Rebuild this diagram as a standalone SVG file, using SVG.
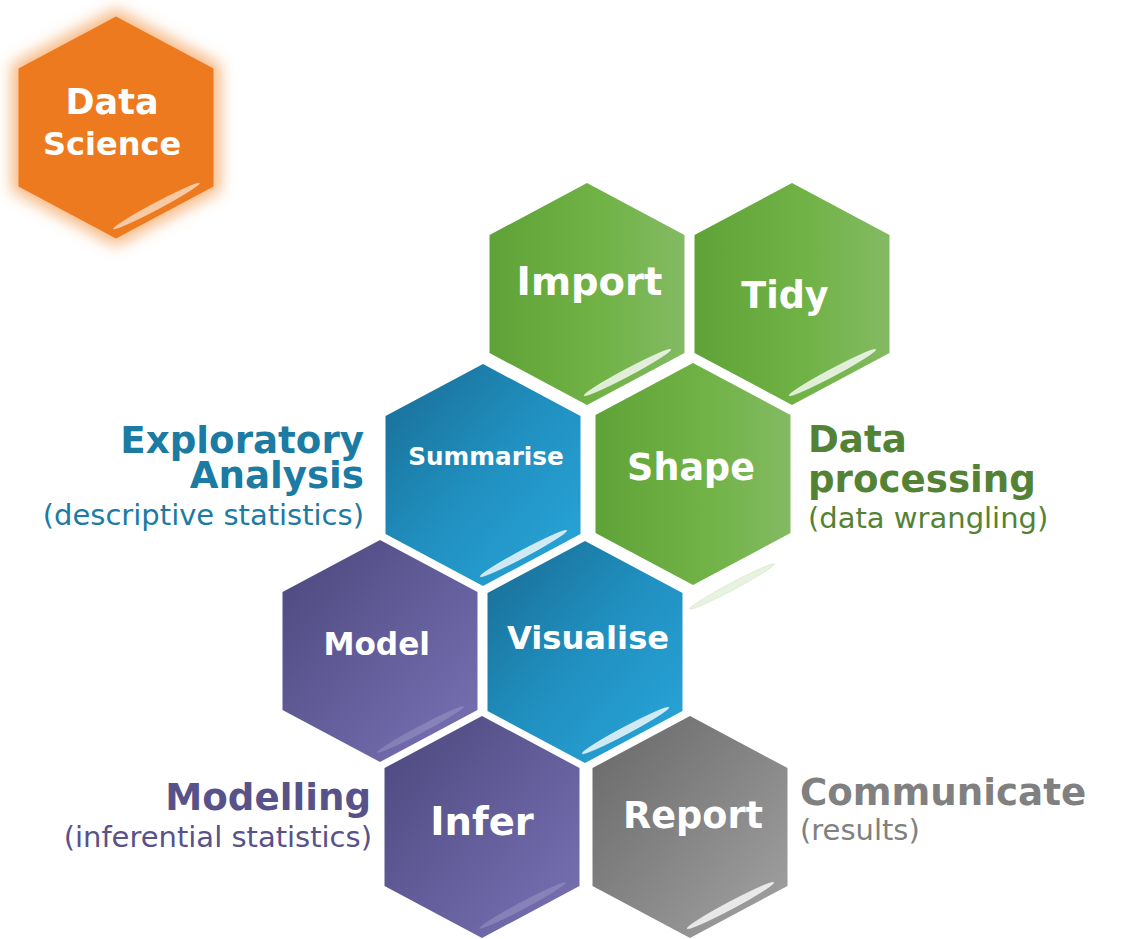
<svg xmlns="http://www.w3.org/2000/svg" xmlns:xlink="http://www.w3.org/1999/xlink" width="1124" height="939" viewBox="0 0 1124 939">
  <style>
    .lbl { font-family: "DejaVu Sans", Verdana, sans-serif; font-weight: bold; fill: #ffffff; text-anchor: middle; }
    .side { font-family: "DejaVu Sans", Verdana, sans-serif; font-weight: bold; font-size: 37.2px; }
    .sub { font-family: "DejaVu Sans", Verdana, sans-serif; font-size: 29px; }
    .blue-t { fill: #1b7ba2; }
    .green-t { fill: #548235; }
    .purple-t { fill: #58528a; }
    .grey-t { fill: #808080; }
    .gloss-light { fill: #ffffff; fill-opacity: 0.78; stroke: #ffffff; stroke-opacity: 0.5; stroke-width: 0.8; }
    .gloss-faint { fill: #ffffff; fill-opacity: 0.16; }
  </style>
  <defs>
    <!-- pointy-top hexagon centred on the origin -->
    <path id="hex" d="M0,-111 L97.5,-59 L97.5,59 L0,111 L-97.5,59 L-97.5,-59 Z"/>
    <!-- thin glossy streak near the lower-right edge -->
    <ellipse id="gloss" cx="0" cy="0" rx="49" ry="3.6" transform="translate(40.5 78.5) rotate(-28)"/>

    <linearGradient id="g-green" x1="0" y1="0" x2="1" y2="0">
      <stop offset="0" stop-color="#5fa237"/>
      <stop offset="0.55" stop-color="#70b245"/>
      <stop offset="1" stop-color="#83ba63"/>
    </linearGradient>
    <linearGradient id="g-blue" x1="0" y1="0" x2="1" y2="1">
      <stop offset="0" stop-color="#196b93"/>
      <stop offset="0.5" stop-color="#2090c0"/>
      <stop offset="1" stop-color="#29a6da"/>
    </linearGradient>
    <linearGradient id="g-purple" x1="0" y1="0" x2="1" y2="1">
      <stop offset="0" stop-color="#4c477c"/>
      <stop offset="0.5" stop-color="#635d9a"/>
      <stop offset="1" stop-color="#7973b6"/>
    </linearGradient>
    <linearGradient id="g-grey" x1="0" y1="0" x2="1" y2="1">
      <stop offset="0" stop-color="#676767"/>
      <stop offset="0.5" stop-color="#858585"/>
      <stop offset="1" stop-color="#a4a4a4"/>
    </linearGradient>
    <filter id="glow" x="-25%" y="-25%" width="150%" height="150%">
      <feGaussianBlur stdDeviation="7"/>
    </filter>
  </defs>

  <rect width="1124" height="939" fill="#ffffff"/>

  <!-- Data Science badge with soft orange halo -->
  <g id="data-science" transform="translate(116 127.5)">
    <use xlink:href="#hex" fill="#f7b985" transform="scale(1.07)" filter="url(#glow)"/>
    <use xlink:href="#hex" fill="#ee7a1f"/>
    <use xlink:href="#gloss" fill="#f8d2b0" fill-opacity="0.9"/>
    <text class="lbl" x="-4" y="-14" font-size="35">Data</text>
    <text class="lbl" x="-4" y="27.5" font-size="32">Science</text>
  </g>

  <!-- Data processing hexagons -->
  <g id="import" transform="translate(587 294)">
    <use xlink:href="#hex" fill="url(#g-green)"/>
    <use xlink:href="#gloss" class="gloss-light"/>
    <text class="lbl" x="2.5" y="1" font-size="38.5">Import</text>
  </g>
  <g id="tidy" transform="translate(792 294)">
    <use xlink:href="#hex" fill="url(#g-green)"/>
    <use xlink:href="#gloss" class="gloss-light"/>
    <text class="lbl" x="-7" y="14" font-size="36.5">Tidy</text>
  </g>
  <g id="shape" transform="translate(693 474)">
    <use xlink:href="#hex" fill="url(#g-green)"/>
    <text class="lbl" x="-2" y="6" font-size="36.5">Shape</text>
  </g>
  <!-- streak left just below the Shape hexagon -->
  <ellipse id="shape-gloss" cx="0" cy="0" rx="48" ry="3.6" transform="translate(732 586.5) rotate(-28)" fill="#d8eacb" fill-opacity="0.6" stroke="#cfe4bf" stroke-opacity="0.6" stroke-width="0.8"/>

  <!-- Exploratory analysis hexagons -->
  <g id="summarise" transform="translate(483 475)">
    <use xlink:href="#hex" fill="url(#g-blue)"/>
    <use xlink:href="#gloss" class="gloss-light" fill-opacity="0.7"/>
    <text class="lbl" x="3" y="-10.5" font-size="24.7">Summarise</text>
  </g>
  <g id="visualise" transform="translate(585 652)">
    <use xlink:href="#hex" fill="url(#g-blue)"/>
    <use xlink:href="#gloss" class="gloss-light" fill-opacity="0.7"/>
    <text class="lbl" x="3" y="-3" font-size="32.2">Visualise</text>
  </g>

  <!-- Modelling hexagons -->
  <g id="model" transform="translate(380 651)">
    <use xlink:href="#hex" fill="url(#g-purple)"/>
    <use xlink:href="#gloss" class="gloss-faint"/>
    <text class="lbl" x="-3.3" y="4" font-size="31.2">Model</text>
  </g>
  <g id="infer" transform="translate(482 827)">
    <use xlink:href="#hex" fill="url(#g-purple)"/>
    <use xlink:href="#gloss" class="gloss-faint"/>
    <text class="lbl" x="0" y="8" font-size="38.5">Infer</text>
  </g>

  <!-- Communication hexagon -->
  <g id="report" transform="translate(690 827)">
    <use xlink:href="#hex" fill="url(#g-grey)"/>
    <use xlink:href="#gloss" class="gloss-light" fill-opacity="0.85"/>
    <text class="lbl" x="3" y="0.7" font-size="36.6">Report</text>
  </g>

  <!-- Stage captions -->
  <g id="caption-exploratory">
    <text class="side blue-t" text-anchor="end"><tspan x="364" y="453">Exploratory</tspan><tspan x="364" y="488">Analysis</tspan></text>
    <text class="sub blue-t" x="364" y="525" text-anchor="end">(descriptive statistics)</text>
  </g>
  <g id="caption-processing">
    <text class="side green-t"><tspan x="808" y="452">Data</tspan><tspan x="808" y="492">processing</tspan></text>
    <text class="sub green-t" x="808" y="528">(data wrangling)</text>
  </g>
  <g id="caption-modelling">
    <text class="side purple-t" x="371" y="810" text-anchor="end">Modelling</text>
    <text class="sub purple-t" x="372" y="847" text-anchor="end">(inferential statistics)</text>
  </g>
  <g id="caption-communicate">
    <text class="side grey-t" x="800" y="805">Communicate</text>
    <text class="sub grey-t" x="800" y="840">(results)</text>
  </g>
</svg>
